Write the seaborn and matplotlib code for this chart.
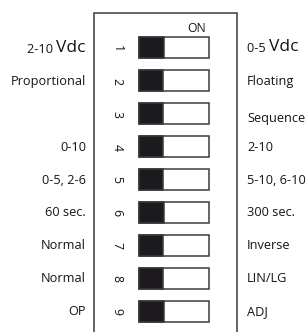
import matplotlib
matplotlib.use("Agg")
import matplotlib.pyplot as plt
import seaborn as sns
import pandas as pd

switches = ["1", "2", "3", "4", "5", "6", "7", "8", "9"]
left_labels = ["2-10", "Proportional", "", "0-10", "0-5, 2-6", "60 sec.", "Normal", "Normal", "OP"]
right_labels = ["0-5", "Floating", "Sequence", "2-10", "5-10, 6-10", "300 sec.", "Inverse", "LIN/LG", "ADJ"]
vdc_rows = ["1"]
off_fraction = [0.35, 0.34, 0.34, 0.34, 0.34, 0.35, 0.34, 0.34, 0.35]
full_length = [1.0] * len(switches)

df = pd.DataFrame({"switch": switches, "full": full_length, "off": off_fraction})

sns.set_theme(style="white")
plt.rcParams["font.family"] = ["Open Sans", "DejaVu Sans"]

W, H = 308, 332
fig = plt.figure(figsize=(W / 100, H / 100), dpi=100)
fig.patch.set_facecolor("white")

ax0 = fig.add_axes([0, 0, 1, 1])
ax0.set_xlim(0, W)
ax0.set_ylim(H, 0)
ax0.axis("off")

edge = "#3a3a3a"
txt = "#151515"
fs = 9.2
ax0.plot([94, 94, 237, 237], [340, 13, 13, 340], color=edge, lw=1.1, solid_joinstyle="miter")
ax0.text(197, 28, "ON", ha="center", va="center", fontsize=8.8, color=txt)

row_top, row_bottom = 31.5, 327.5
x_left, x_right = 139, 209
ax = fig.add_axes([x_left / W, (H - row_bottom) / H, (x_right - x_left) / W, (row_bottom - row_top) / H])
sns.barplot(data=df, x="full", y="switch", order=switches, color="white",
            edgecolor=edge, linewidth=1.1, width=0.64, ax=ax, saturation=1)
sns.barplot(data=df, x="off", y="switch", order=switches, color="#1c1a1f",
            edgecolor=edge, linewidth=1.1, width=0.64, ax=ax, saturation=1)
for p in ax.patches:
    p.set_clip_on(False)
ax.set_xlim(0, 1)
ax.axis("off")

row_y = [row_top + (i + 0.5) * (row_bottom - row_top) / len(switches) for i in range(len(switches))]

for i, sw in enumerate(switches):
    y = row_y[i] + 0.5
    ax0.text(117, y, sw, rotation=-90, ha="center", va="center", fontsize=8.8, color=txt)
    if sw in vdc_rows:
        t = ax0.text(86, y, "Vdc", ha="right", va="center", fontsize=12.5, color=txt)
        ax0.annotate(left_labels[i] + " ", xy=(0, 0.42), xycoords=t, ha="right", va="center",
                     fontsize=fs, color=txt)
        t2 = ax0.text(247, y, right_labels[i] + " ", ha="left", va="center", fontsize=fs, color=txt)
        ax0.annotate("Vdc", xy=(1, 0.58), xycoords=t2, ha="left", va="center",
                     fontsize=12.5, color=txt)
    else:
        if left_labels[i]:
            ax0.text(86, y, left_labels[i], ha="right", va="center", fontsize=fs, color=txt)
        ax0.text(247, y + (4 if sw == "3" else 0), right_labels[i], ha="left", va="center",
                 fontsize=fs, color=txt)

fig.savefig("out.png", dpi=100, facecolor="white")
